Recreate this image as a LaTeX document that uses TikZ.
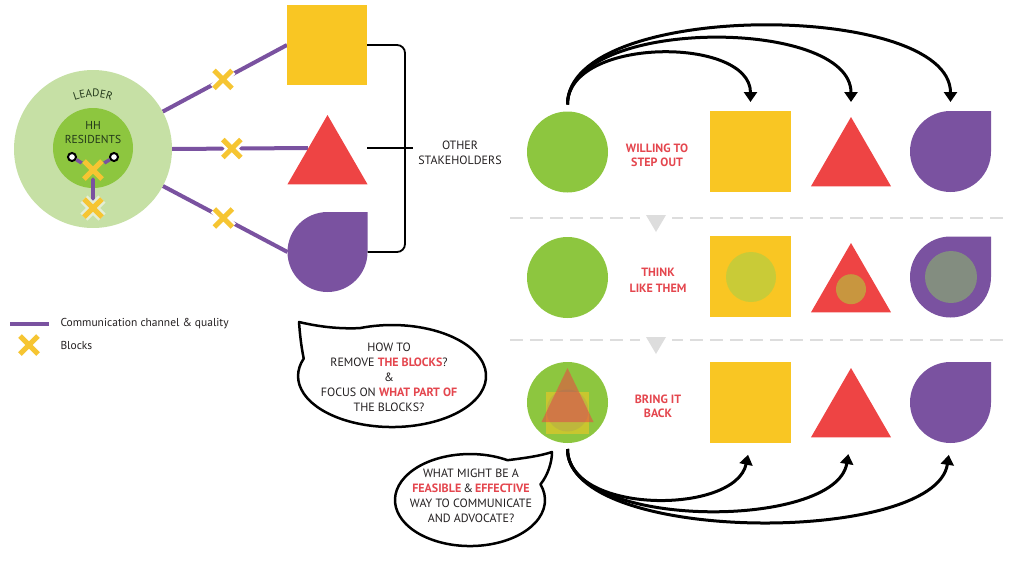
\documentclass[tikz,border=0pt]{standalone}
\usepackage{fontspec}
\setmainfont{PT Sans}
\usetikzlibrary{shapes.geometric,arrows.meta,decorations.text,backgrounds,calc}
\definecolor{clgreen}{HTML}{C6E0A5}
\definecolor{cgreen}{HTML}{8DC63F}
\definecolor{cyel}{HTML}{F9C623}
\definecolor{cred}{HTML}{EE4444}
\definecolor{cpurp}{HTML}{7A52A0}
\definecolor{cxyel}{HTML}{F6C532}
\definecolor{ctred}{HTML}{E4464E}
\definecolor{ctxt}{HTML}{231F20}
\definecolor{chh}{HTML}{22381A}
\definecolor{cdash}{HTML}{DDDDDD}
\definecolor{cinA}{HTML}{C9CB37}
\definecolor{cinB}{HTML}{C8963F}
\definecolor{cinC}{HTML}{838D80}
\definecolor{chalo}{HTML}{E3EED6}
\newcommand\dropshape[2]{\fill[cpurp] ($(#1.center)+(#2,0)$) -- ($(#1.center)+(#2,-#2)$) -- ($(#1.center)+(0,-#2)$) arc[start angle=270,end angle=0,radius=#2] -- cycle;}
\begin{document}
\begin{tikzpicture}[x=1pt,y=-1pt,
  shp/.style={inner sep=0pt,outer sep=0pt},
  sqr/.style={shp,rectangle,fill=cyel,minimum size=#1},
  sqr/.default=81pt,
  crc/.style={shp,circle,fill=cgreen,minimum size=#1},
  crc/.default=81pt,
  trg/.style={shp,regular polygon,regular polygon sides=3,fill=cred,minimum size=92.4pt},
  anch/.style={shp,circle,minimum size=#1},
  anch/.default=81pt,
  plink/.style={draw=cpurp,line width=4pt},
  arr/.style={draw=black,line width=3pt,-{Triangle[width=13pt,length=10pt]}},
  tx/.style={text=ctxt,font=\fontsize{12}{14.5}\selectfont,align=center},
  rtx/.style={text=ctred,font=\bfseries\fontsize{12}{14}\selectfont,align=center},
  btx/.style={text=ctxt,font=\fontsize{12}{15}\selectfont,align=center},
  bubble/.style={draw=black,line width=2.5pt,line join=round,fill=white},
  sepline/.style={draw=cdash,line width=2.5pt,dash pattern=on 13pt off 7pt},
  xm/.pic={\draw[line width=10pt,line cap=square,draw=#1] (-9,-9)--(9,9) (-9,9)--(9,-9);
           \draw[line width=5pt,draw=cxyel] (-9,-9)--(9,9) (-9,9)--(9,-9);}
]
\useasboundingbox (0,0) rectangle (1010,560);

% ---------- left part ----------
\node[crc=158pt,fill=clgreen] (ldr) at (93,149) {};
\node[crc=80pt] (hh) at (93,148) {};
\path[decorate,decoration={text along path,text={|\fontsize{11}{12}\selectfont|LEADER},text align=center,text color=chh}]
  (63.2,106.4) arc[start angle=235,end angle=305,radius=52];
\node[text=chh,font=\fontsize{11.5}{14}\selectfont,align=center] (hht) at (93,133) {HH\\RESIDENTS};

\node[circle,draw=black,fill=white,line width=2pt,inner sep=0pt,minimum size=8pt] (p1) at (72,157) {};
\node[circle,draw=black,fill=white,line width=2pt,inner sep=0pt,minimum size=8pt] (p2) at (114,157) {};
\coordinate (xu) at (93,170);
\coordinate (xl) at (93,208);
\draw[cpurp,line width=3.5pt] (p1) -- (xu) -- (p2);
\draw[cpurp,line width=3.5pt] (xu) -- (xl);
\pic at (xu) {xm=cgreen};
\pic at (xl) {xm=chalo};

\node[sqr=80pt] (sq1) at (327,45) {};
\node[trg] (tri1) at (327.5,161.2) {};
\node[anch=80pt] (dr1) at (327.5,252) {};
\dropshape{dr1}{40}
\coordinate (tri1in) at (308,148);

\begin{scope}[on background layer]
\draw[plink] (ldr) -- (sq1.west) coordinate[pos=0.485] (xa);
\draw[plink] (ldr.east) -- (tri1in) coordinate[pos=0.44] (xb);
\draw[plink] (ldr) -- (dr1.west) coordinate[pos=0.485] (xc);
\end{scope}
\pic at (xa) {xm=white};
\pic at (xb) {xm=white};
\pic at (xc) {xm=white};

\coordinate (brx) at (405,0);
\draw[line width=1.8pt,rounded corners=8pt] (sq1.east) -- (sq1.east -| brx) -- (dr1.east -| brx) -- (dr1.east);
\coordinate (tkA) at (367,148);
\coordinate (tkB) at (413,148);
\draw[line width=1.8pt] (tkA) -- (tkB);
\node[tx] (oth) at (460,153) {OTHER\\STAKEHOLDERS};

% legend
\coordinate (lgA) at (10,324);
\coordinate (lgB) at (49,324);
\draw[plink] (lgA) -- (lgB);
\pic at (29,345) {xm=white};
\node[tx,anchor=west,font=\fontsize{11.5}{12}\selectfont] (lgt1) at (57,324) {Communication channel \& quality};
\node[tx,anchor=west,font=\fontsize{11.5}{12}\selectfont] (lgt2) at (57,345) {Blocks};

% bubbles
\draw[bubble] (299,322) .. controls (320,327) and (340,329) .. (359.9,328.1)
  arc[start angle=250,end angle=560,x radius=94,y radius=51]
  .. controls (301,345) and (300,335) .. (299,322) -- cycle;
\node[btx] (bta) at (389,377) {HOW TO\\REMOVE \textcolor{ctred}{\bfseries THE BLOCKS}?\\\&\\FOCUS ON \textcolor{ctred}{\bfseries WHAT PART OF}\\THE BLOCKS?};

\draw[bubble] (540.5,484.3) .. controls (548,475) and (552,462) .. (552,452)
  .. controls (540,456) and (525,458) .. (507.5,460.2)
  arc[start angle=300,end angle=-20,x radius=75,y radius=46] -- cycle;
\node[btx] (btb) at (471,495.5) {WHAT MIGHT BE A\\\textcolor{ctred}{\bfseries FEASIBLE}\,\&\,\textcolor{ctred}{\bfseries EFFECTIVE}\\WAY TO COMMUNICATE\\AND ADVOCATE?};

% ---------- right part ----------
% separators
\draw[sepline] (510,218) -- (1005,218);
\fill[white] (640,212) rectangle (672,224);
\fill[cdash] (646,215) -- (666,215) -- (656,232) -- cycle;
\draw[sepline] (510,340) -- (1005,340);
\fill[white] (640,334) rectangle (672,346);
\fill[cdash] (646,337) -- (666,337) -- (656,354) -- cycle;

% row 1
\node[crc] (c1) at (567.5,152) {};
\node[rtx] (t1) at (657,155) {WILLING TO\\STEP OUT};
\node[sqr] (sq2) at (750.5,151.5) {};
\node[trg] (tri2) at (851,163.2) {};
\node[anch] (dr2) at (950.5,151.5) {};
\dropshape{dr2}{40.5}

% row 2
\node[crc] (c2) at (567.5,277.5) {};
\node[rtx,font=\bfseries\fontsize{12}{16.5}\selectfont] (t2) at (658,280.5) {THINK\\LIKE THEM};
\node[sqr] (sq3) at (750.5,276.5) {};
\node[shp,circle,fill=cinA,minimum size=50pt] (ia) at (751,277) {};
\node[trg] (tri3) at (851,289.2) {};
\node[shp,circle,fill=cinB,minimum size=30pt] (ib) at (851,289.2) {};
\node[anch] (dr3) at (950.5,277) {};
\dropshape{dr3}{40.5}
\node[shp,circle,fill=cinC,minimum size=52pt] (ic) at (951,277) {};

% row 3
\node[crc] (c3) at (567.5,402.5) {};
\begin{scope}[shift={(c3.center)}]
  \fill[cyel,opacity=0.55] (-21.5,-10.5) rectangle (21.5,31.5);
  \fill[cred,opacity=0.55] (0,-34.5) -- (26,19.5) -- (-26,19.5) -- cycle;
  \fill[cpurp,opacity=0.12] (0,8) circle (21);
\end{scope}
\node[rtx] (t3) at (658,406) {BRING IT\\BACK};
\node[sqr] (sq4) at (750.5,402.5) {};
\node[trg] (tri4) at (851,414.2) {};
\node[anch] (dr4) at (950.5,402.5) {};
\dropshape{dr4}{40.5}

% arrows top
\draw[arr,shorten <=7pt,shorten >=9pt] (c1.north) .. controls +(0,-75) and +(0,-75) .. (sq2.north);
\draw[arr,shorten <=7pt,shorten >=15pt] (c1.north) .. controls +(0,-95) and +(0,-100) .. (tri2.corner 1);
\draw[arr,shorten <=7pt,shorten >=9pt] (c1.north) .. controls +(0,-112) and +(0,-110) .. (dr2.north);

% arrows bottom
\draw[arr,shorten <=6pt,shorten >=12pt] (c3.south) .. controls +(0,72) and +(-15,72) .. (sq4.south);
\draw[arr,shorten <=6pt,shorten >=17pt] (c3.south) .. controls +(0,87) and +(-15,93) .. ($(tri4.corner 2)!0.5!(tri4.corner 3)$);
\draw[arr,shorten <=6pt,shorten >=12pt] (c3.south) .. controls +(0,102) and +(-15,102) .. (dr4.south);
\end{tikzpicture}
\end{document}
